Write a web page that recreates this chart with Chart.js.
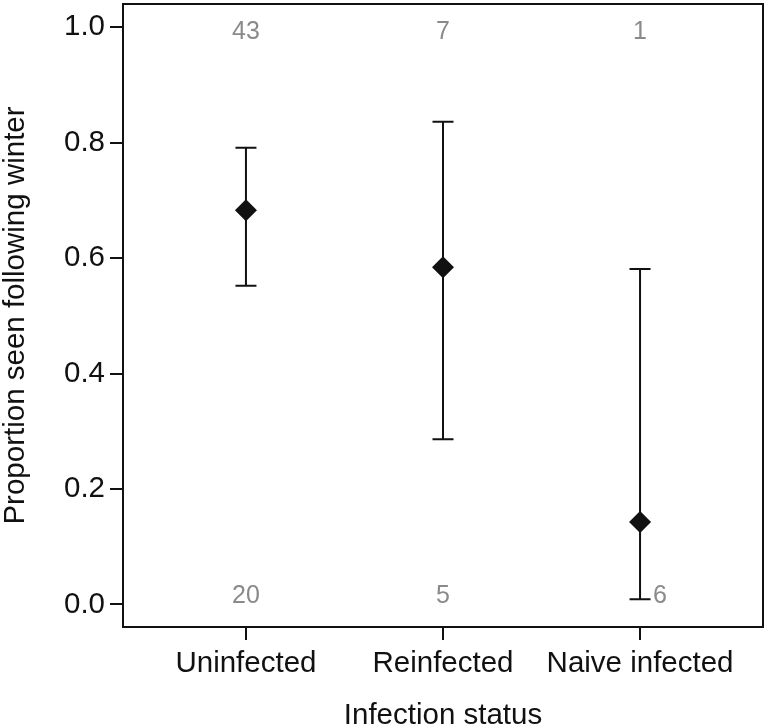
<!DOCTYPE html>
<html>
<head>
<meta charset="utf-8">
<script src="https://cdn.jsdelivr.net/npm/chart.js@4"></script>
<style>
  body { margin: 0; background: #fff; }
</style>
</head>
<body>
<canvas id="statusChart" width="768" height="728"></canvas>
<script>
// categories and values
const categories = ["Uninfected", "Reinfected", "Naive infected"];
const proportion = [0.683, 0.584, 0.143];
const lowerCI = [0.552, 0.286, 0.009];
const upperCI = [0.791, 0.836, 0.581];
const countsTop = [43, 7, 1];     // seen following winter
const countsBottom = [20, 5, 6];  // not seen
const yTicks = [0, 0.2, 0.4, 0.6, 0.8, 1.0];

const FONT = "'Liberation Sans', Arial, sans-serif";

// error bars behind the diamonds
const errorBars = {
    id: "errorBars",
    beforeDatasetsDraw(chart) {
        const { ctx, scales: { x, y } } = chart;
        ctx.save();
        ctx.strokeStyle = "#111";
        ctx.lineWidth = 2;
        categories.forEach((c, i) => {
            const px = x.getPixelForValue(i + 1);
            const top = y.getPixelForValue(upperCI[i]);
            const bot = y.getPixelForValue(lowerCI[i]);
            ctx.beginPath();
            ctx.moveTo(px, top); ctx.lineTo(px, bot);
            ctx.moveTo(px - 10.5, top); ctx.lineTo(px + 10.5, top);
            ctx.moveTo(px - 10.5, bot); ctx.lineTo(px + 10.5, bot);
            ctx.stroke();
        });
        ctx.restore();
    }
};

// box round plot + grey sample sizes
const frameAndCounts = {
    id: "frameAndCounts",
    afterDraw(chart) {
        const { ctx, chartArea: a, scales: { x, y } } = chart;
        ctx.save();
        ctx.strokeStyle = "#111";
        ctx.lineWidth = 2;
        ctx.strokeRect(a.left, a.top, a.right - a.left, a.bottom - a.top);

        ctx.fillStyle = "#8a8a8a";
        ctx.font = "25px " + FONT;
        ctx.textAlign = "center";
        ctx.textBaseline = "middle";
        categories.forEach((c, i) => {
            const px = x.getPixelForValue(i + 1);
            ctx.fillText(String(countsTop[i]), px, y.getPixelForValue(1) + 5);
            // move the label aside when the bar reaches down to it
            if (lowerCI[i] < 0.03) {
                ctx.textAlign = "left";
                ctx.fillText(String(countsBottom[i]), px + 13, y.getPixelForValue(0) - 8);
                ctx.textAlign = "center";
            } else {
                ctx.fillText(String(countsBottom[i]), px, y.getPixelForValue(0) - 8);
            }
        });
        ctx.restore();
    }
};

new Chart(document.getElementById("statusChart").getContext("2d"), {
    type: "scatter",
    data: {
        datasets: [{
            data: proportion.map((v, i) => ({ x: i + 1, y: v })),
            pointStyle: "rectRot",
            pointRadius: 11,
            pointHoverRadius: 11,
            backgroundColor: "#111",
            borderColor: "#111",
            borderWidth: 0
        }]
    },
    options: {
        responsive: false,
        animation: false,
        devicePixelRatio: 1,
        layout: { autoPadding: false, padding: { top: 4, right: 5, left: 0, bottom: 0 } },
        plugins: { legend: { display: false }, tooltip: { enabled: false } },
        scales: {
            x: {
                type: "linear",
                min: 0.376,
                max: 3.624,
                afterBuildTicks: axis => { axis.ticks = categories.map((c, i) => ({ value: i + 1 })); },
                afterFit: axis => {
                    axis.height = 101;
                    axis.paddingLeft = 0;
                    axis.paddingRight = 0;
                },
                ticks: {
                    callback: v => categories[v - 1],
                    color: "#111",
                    font: { family: FONT, size: 29.5 },
                    padding: 6,
                    maxRotation: 0,
                    autoSkip: false
                },
                grid: { drawOnChartArea: false, tickLength: 13, color: "#111", lineWidth: 2 },
                border: { display: true, color: "#111", width: 2 },
                title: {
                    display: true,
                    text: "Infection status",
                    color: "#111",
                    font: { family: FONT, size: 29.5 },
                    padding: { top: 0, bottom: -6 }
                }
            },
            y: {
                min: -0.039,
                max: 1.040,
                afterBuildTicks: axis => { axis.ticks = yTicks.map(v => ({ value: v })); },
                afterFit: axis => {
                    axis.width = 123;
                    axis.paddingTop = 0;
                    axis.paddingBottom = 0;
                },
                ticks: {
                    callback: v => v.toFixed(1),
                    color: "#111",
                    font: { family: FONT, size: 29.5 },
                    padding: 5
                },
                grid: { drawOnChartArea: false, tickLength: 13, color: "#111", lineWidth: 2 },
                border: { display: true, color: "#111", width: 2 },
                title: {
                    display: true,
                    text: "Proportion seen following winter",
                    color: "#111",
                    font: { family: FONT, size: 29.5 },
                    padding: { top: -2, bottom: 0 }
                }
            }
        }
    },
    plugins: [errorBars, frameAndCounts]
});
</script>
</body>
</html>
